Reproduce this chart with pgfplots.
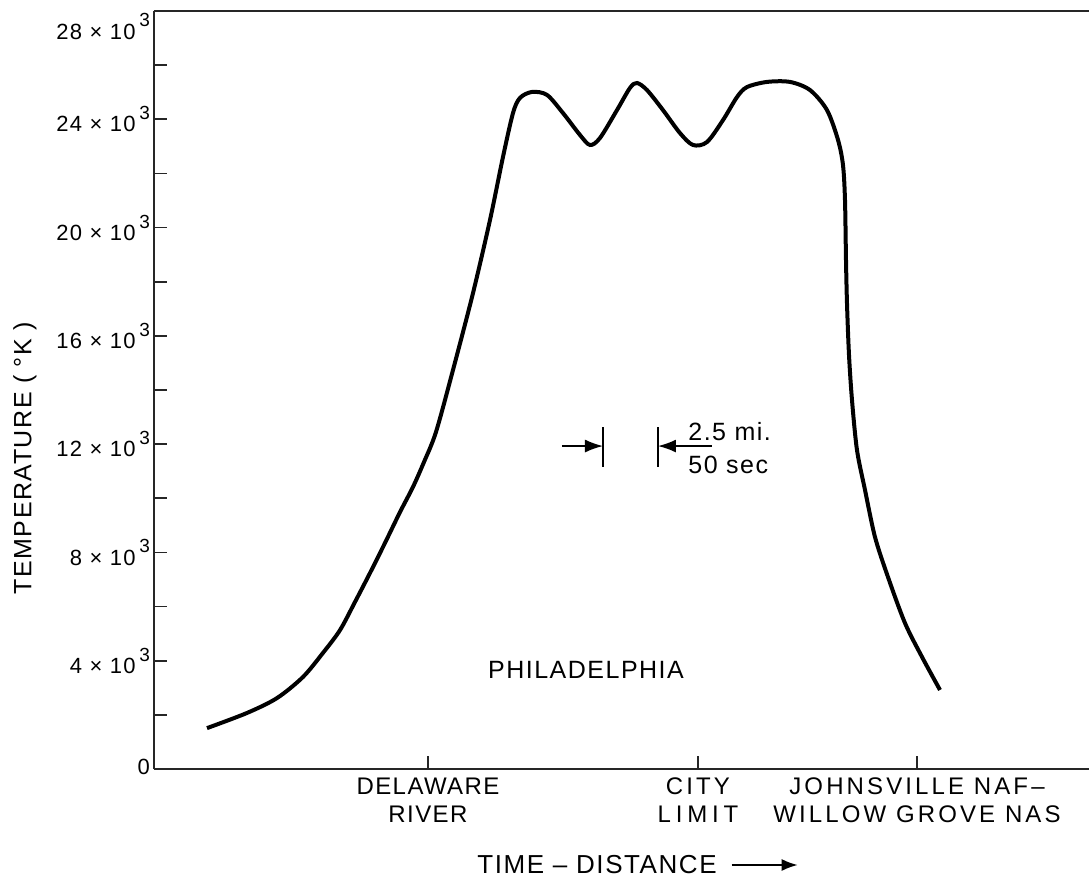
\documentclass[border=0pt]{standalone}
\usepackage{fontspec}
\setmainfont{Liberation Sans}[LetterSpace=6]
\usepackage{pgfplots}
\pgfplotsset{compat=1.18}
\usetikzlibrary{arrows.meta}
\newcommand{\tx}[1]{#1\,\raisebox{0.55em}{\fontsize{9.5}{9.5}\selectfont 3}}
\begin{document}
\begin{tikzpicture}
\begin{axis}[
  scale only axis,
  width=467.5pt, height=379pt,
  xmin=154, xmax=1089,
  ymin=0, ymax=28000,
  clip=false,
  axis x line*=box,
  axis y line*=left,
  axis line style={line width=1.2pt, color=black!85},
  xtick pos=left,
  ytick pos=left,
  tick align=inside,
  major tick length=6.5pt,
  minor tick length=6.5pt,
  every tick/.style={line width=0.9pt, black!85},
  xtick={428,698,917},
  xticklabels={{DELAWARE\\RIVER},{\addfontfeatures{LetterSpace=13}CITY\\\addfontfeatures{LetterSpace=20}LIMIT},{\addfontfeatures{LetterSpace=13}JOHNSVILLE NAF–\\\addfontfeatures{LetterSpace=13}WILLOW GROVE NAS}},
  xticklabel style={align=center, font=\fontsize{12}{14}\selectfont, yshift=-1pt},
  ytick={0,4000,8000,12000,16000,20000,24000,28000},
  minor y tick num=1,
  yticklabels={\raisebox{2pt}{0},\tx{4 × 10},\tx{8 × 10},\tx{12 × 10},\tx{16 × 10},\tx{20 × 10},\tx{24 × 10},\raisebox{-14pt}[0pt][0pt]{\tx{28 × 10}}},
  yticklabel style={font=\fontsize{11}{13}\selectfont, xshift=1.5pt, anchor=east},
  ylabel={TEMPERATURE ( °K )},
  ylabel style={at={(axis description cs:-0.138,0.41)}, anchor=center, font=\fontsize{12.5}{14}\selectfont},
]
\addplot[black, line width=2pt, smooth, tension=0.5] coordinates {
(207,1510)(247,2070)(277,2620)(303,3400)(323,4290)(340,5130)(355,6170)(370,7240)(385,8350)(400,9490)(413,10420)(424,11340)(436,12450)(453,14740)(473,17580)(490,20280)(503,22610)(513,24230)(520,24790)(532,25010)(547,24900)(563,24230)(580,23420)(590,23050)(600,23310)(617,24340)(630,25160)(637,25340)(647,25080)(663,24340)(680,23490)(693,23050)(707,23160)(723,23970)(737,24820)(747,25190)(767,25380)(790,25380)(810,25080)(827,24340)(838,23240)(843,22310)(845,21020)(846,18800)(847,17200)(849,15300)(852,13630)(857,11780)(865,10310)(875,8570)(888,7090)(905,5390)(922,4140)(940,2920)
};
% scale annotation
\draw[line width=0.8pt, -{Latex[length=9pt,width=6.5pt]}] (axis cs:562,11930) -- (axis cs:603,11930);
\draw[line width=0.8pt] (axis cs:603,12630) -- (axis cs:603,11150);
\draw[line width=0.8pt] (axis cs:658,12630) -- (axis cs:658,11150);
\draw[line width=0.8pt, -{Latex[length=9pt,width=6.5pt]}] (axis cs:712,11930) -- (axis cs:658,11930);
\node[anchor=south west, inner sep=1pt, font=\fontsize{12.5}{14}\selectfont] at (axis cs:686,12050) {2.5 mi.};
\node[anchor=north west, inner sep=1pt, font=\fontsize{12.5}{14}\selectfont] at (axis cs:686,11650) {50 sec};
\node[font=\fontsize{12.5}{14}\selectfont] at (axis cs:586,3660) {PHILADELPHIA};
\end{axis}
\node[font=\fontsize{13}{15}\selectfont] (tl) at (221.5pt,-48pt) {TIME – DISTANCE};
\draw[line width=0.9pt, -{Latex[length=8pt,width=6pt]}] ([xshift=4pt]tl.east) -- ++(33pt,0);
\pgfresetboundingbox
\useasboundingbox (-77pt,-61pt) rectangle (467.5pt,384.5pt);
\end{tikzpicture}
\end{document}
